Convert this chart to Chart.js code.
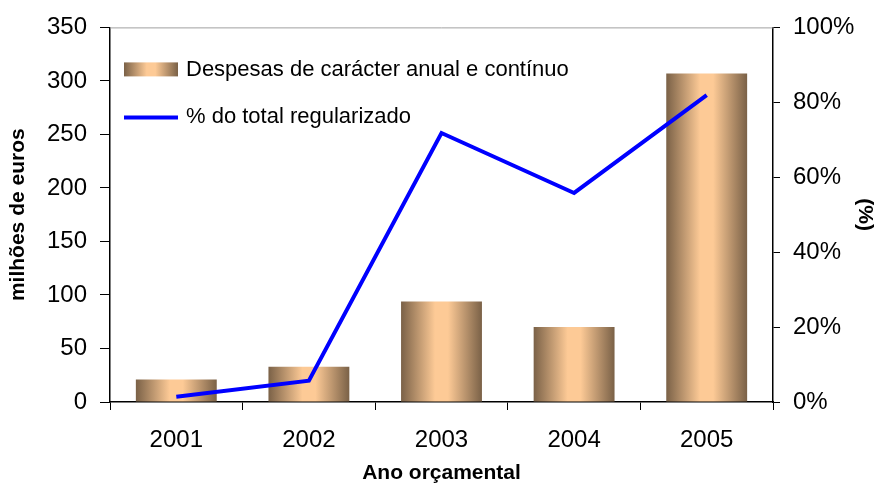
<!DOCTYPE html>
<html>
<head>
<meta charset="utf-8">
<script src="https://cdn.jsdelivr.net/npm/chart.js@4"></script>
<style>
  html, body { margin: 0; padding: 0; background: #fff; }
  #wrap { width: 877px; height: 486px; }
</style>
</head>
<body>
<div id="wrap"><canvas id="myChart" width="877" height="486"></canvas></div>
<script>
// dados
const anos = ['2001', '2002', '2003', '2004', '2005'];
const despesas = [21, 33, 94, 70, 307];          // milhões de euros
const percRegularizado = [1.4, 5.7, 71.8, 55.8, 81.9]; // %
const rotuloBarras = 'Despesas de carácter anual e contínuo';
const rotuloLinha = '% do total regularizado';

Chart.defaults.font.family = "'Liberation Sans', Arial, sans-serif";
Chart.defaults.color = '#000';

const escuro = '#7a6147';
const claro = '#fdca96';
const larguraBarra = 0.61;

function fazGradiente(c, x0, x1) {
  const g = c.createLinearGradient(x0, 0, x1, 0);
  g.addColorStop(0, escuro);
  g.addColorStop(0.42, claro);
  g.addColorStop(0.58, claro);
  g.addColorStop(1, escuro);
  return g;
}

// gradiente horizontal para cada barra
function corBarra(context) {
  const chart = context.chart;
  const area = chart.chartArea;
  if (!area || context.dataIndex === undefined) return claro;
  const x = chart.scales.x.getPixelForValue(context.dataIndex);
  const w = (area.width / anos.length) * larguraBarra;
  return fazGradiente(chart.ctx, x - w / 2, x + w / 2);
}

// legenda dentro da área do gráfico + linha cinzenta no topo
const legendaInterna = {
  id: 'legendaInterna',
  afterDatasetsDraw(chart) {
    const c = chart.ctx;
    const a = chart.chartArea;
    c.save();
    c.strokeStyle = '#a0a0a0';
    c.lineWidth = 1;
    c.beginPath();
    c.moveTo(a.left, a.top + 0.5);
    c.lineTo(a.right, a.top + 0.5);
    c.stroke();

    const x0 = a.left + 14;
    const x1 = a.left + 68;
    c.fillStyle = fazGradiente(c, x0, x1);
    c.fillRect(x0, a.top + 35, x1 - x0, 14);

    c.strokeStyle = '#0000ff';
    c.lineWidth = 4;
    c.beginPath();
    c.moveTo(x0, a.top + 90);
    c.lineTo(x1, a.top + 90);
    c.stroke();

    c.fillStyle = '#000';
    c.font = "22px 'Liberation Sans', Arial, sans-serif";
    c.textBaseline = 'middle';
    c.fillText(rotuloBarras, a.left + 76, a.top + 43);
    c.fillText(rotuloLinha, a.left + 76, a.top + 90);
    c.restore();
  }
};

new Chart(
  document.getElementById('myChart'),
  {
    data: {
      labels: anos,
      datasets: [
        {
          type: 'line',
          label: rotuloLinha,
          data: percRegularizado,
          yAxisID: 'y1',
          borderColor: '#0000ff',
          borderWidth: 4,
          pointRadius: 0,
          tension: 0,
          order: 0
        },
        {
          type: 'bar',
          label: rotuloBarras,
          data: despesas,
          yAxisID: 'y',
          backgroundColor: corBarra,
          borderWidth: 0,
          categoryPercentage: 1,
          barPercentage: larguraBarra,
          order: 1
        }
      ]
    },
    options: {
      responsive: false,
      animation: false,
      layout: { padding: { top: 24, left: 0, right: 0, bottom: 0 } },
      plugins: {
        legend: { display: false },
        tooltip: { enabled: false }
      },
      scales: {
        x: {
          grid: { drawOnChartArea: false, tickLength: 8, color: '#000', offset: true },
          border: { color: '#000', width: 1.5 },
          ticks: { font: { size: 24 }, color: '#000', padding: 16 },
          title: {
            display: true,
            text: 'Ano orçamental',
            font: { size: 21, weight: 'bold' },
            color: '#000',
            padding: { top: 0, bottom: 0 }
          },
          afterFit: (s) => { s.height = 84; }
        },
        y: {
          position: 'left',
          min: 0,
          max: 350,
          grid: { drawOnChartArea: false, tickLength: 10, color: '#000' },
          border: { color: '#000', width: 1.5 },
          ticks: { stepSize: 50, font: { size: 24 }, color: '#000', padding: 13 },
          title: {
            display: true,
            text: 'milhões de euros',
            font: { size: 21, weight: 'bold' },
            color: '#000',
            padding: { top: 6, bottom: 0 }
          },
          afterFit: (s) => { s.width = 110; }
        },
        y1: {
          position: 'right',
          min: 0,
          max: 100,
          grid: { drawOnChartArea: false, tickLength: 7, color: '#000' },
          border: { color: '#000', width: 1.5 },
          ticks: {
            stepSize: 20,
            font: { size: 24 },
            color: '#000',
            padding: 13,
            callback: (v) => v + '%'
          },
          title: {
            display: true,
            text: '(%)',
            font: { size: 21, weight: 'bold' },
            color: '#000',
            padding: { top: 0, bottom: 0 }
          },
          afterFit: (s) => { s.width = 104; }
        }
      }
    },
    plugins: [legendaInterna]
  }
);
</script>
</body>
</html>
